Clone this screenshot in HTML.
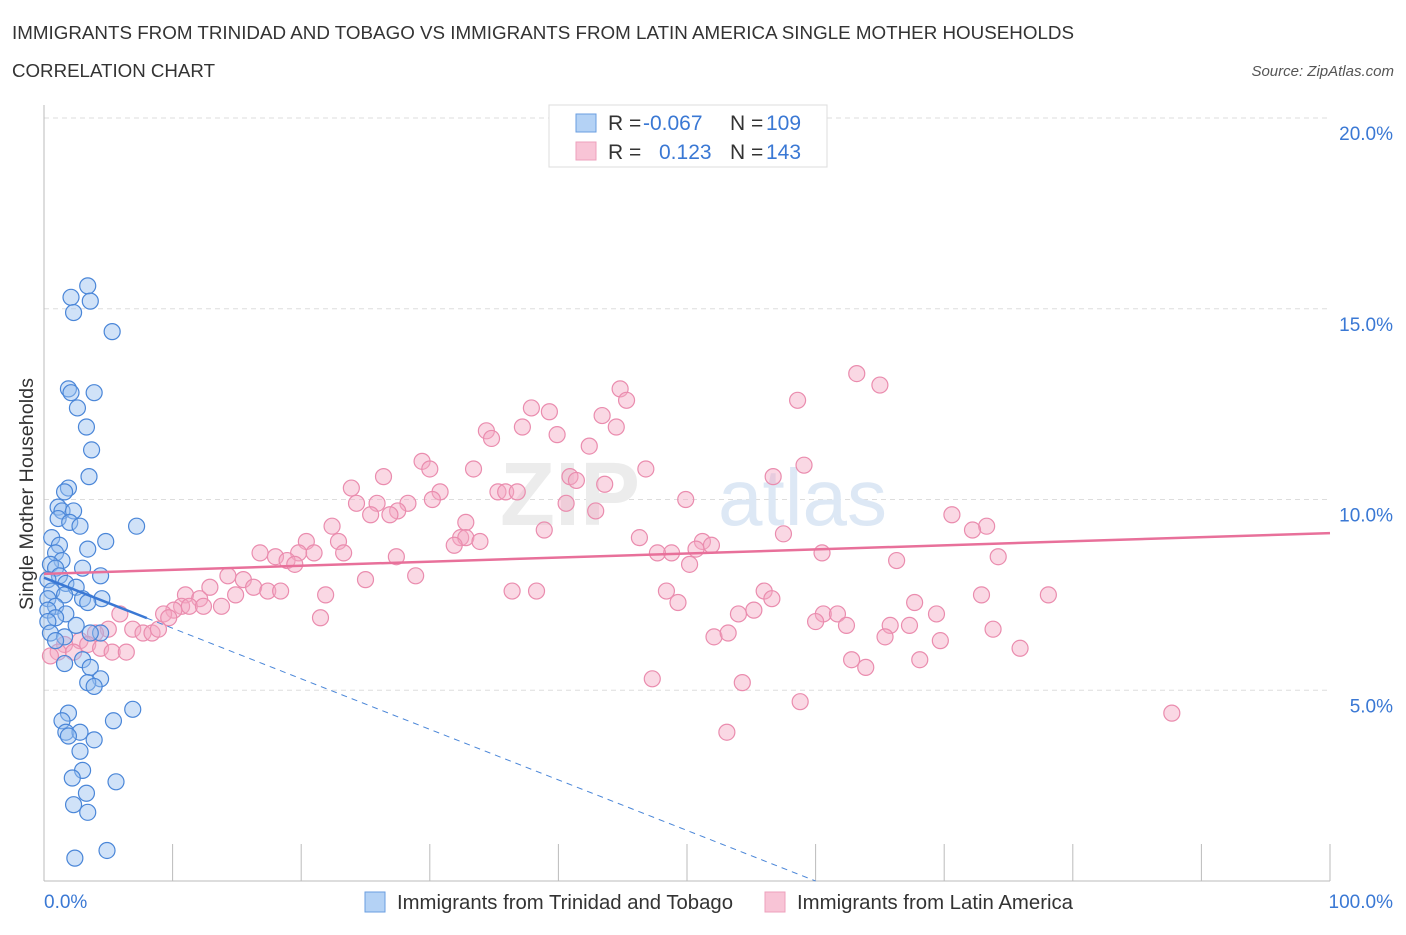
<!DOCTYPE html>
<html><head><meta charset="utf-8"><style>
body{margin:0;background:#fff;font-family:"Liberation Sans",sans-serif;}
svg text{font-family:"Liberation Sans",sans-serif;}
</style></head><body>
<svg id="chart" width="1406" height="930">
<text x="12" y="39" font-size="18" fill="#333" textLength="1062" lengthAdjust="spacingAndGlyphs">IMMIGRANTS FROM TRINIDAD AND TOBAGO VS IMMIGRANTS FROM LATIN AMERICA SINGLE MOTHER HOUSEHOLDS</text>
<text x="12" y="77" font-size="18" fill="#333" textLength="203" lengthAdjust="spacingAndGlyphs">CORRELATION CHART</text>
<text x="1394" y="76" font-size="15" fill="#555" font-style="italic" text-anchor="end">Source: ZipAtlas.com</text>
<text x="33" y="494" font-size="19" fill="#333" text-anchor="middle" textLength="232" lengthAdjust="spacingAndGlyphs" transform="rotate(-90 33 494)">Single Mother Households</text>
<g id="grid"></g>
<text x="640" y="525" font-size="90" fill="#ececec" font-family="Liberation Serif" text-anchor="end" font-weight="bold">ZIP</text>
<text x="718" y="525" font-size="80" fill="#dde8f5">atlas</text>
<g id="pts"></g>
<g id="lines"></g>
<g>
<rect x="549" y="105" width="278" height="62" fill="#fff" stroke="#ddd"/>
<rect x="576" y="114" width="20" height="18" fill="#b4d2f5" stroke="#6a9ee0"/>
<rect x="576" y="142" width="20" height="18" fill="#f8c4d6" stroke="#eea0bc"/>
<text x="608" y="130" font-size="21" fill="#333">R =</text>
<text x="643" y="130" font-size="21" fill="#3a78d4">-0.067</text>
<text x="730" y="130" font-size="21" fill="#333">N =</text>
<text x="766" y="130" font-size="21" fill="#3a78d4">109</text>
<text x="608" y="159" font-size="21" fill="#333">R =</text>
<text x="659" y="159" font-size="21" fill="#3a78d4">0.123</text>
<text x="730" y="159" font-size="21" fill="#333">N =</text>
<text x="766" y="159" font-size="21" fill="#3a78d4">143</text>
</g>
<g>
<rect x="365" y="892" width="20" height="20" fill="#b4d2f5" stroke="#6a9ee0"/>
<text x="397" y="909" font-size="20" fill="#333" textLength="336" lengthAdjust="spacingAndGlyphs">Immigrants from Trinidad and Tobago</text>
<rect x="765" y="892" width="20" height="20" fill="#f8c4d6" stroke="#eea0bc"/>
<text x="797" y="909" font-size="20" fill="#333" textLength="276" lengthAdjust="spacingAndGlyphs">Immigrants from Latin America</text>
</g>
</svg>
<script>
const blueX=[3.4,2.1,3.6,2.3,5.3,1.9,2.1,3.9,2.6,3.3,3.7,3.5,1.9,1.6,1.1,1.4,2.3,1.1,2.0,2.8,7.2,0.6,4.8,1.2,3.4,0.9,1.4,0.5,0.9,3.0,1.2,4.4,0.3,1.7,2.5,0.6,1.6,3.0,4.5,0.3,3.4,0.9,0.3,1.7,0.9,0.3,2.5,0.5,4.4,3.6,1.6,0.9,3.0,1.6,3.6,4.4,3.4,3.9,6.9,1.9,1.4,5.4,1.7,2.8,1.9,3.9,2.8,3.0,2.2,5.6,3.3,2.3,3.4,4.9,2.4];
const blueY=[15.6,15.3,15.2,14.9,14.4,12.9,12.8,12.8,12.4,11.9,11.3,10.6,10.3,10.2,9.8,9.7,9.7,9.5,9.4,9.3,9.3,9.0,8.9,8.8,8.7,8.6,8.4,8.3,8.2,8.2,8.0,8.0,7.9,7.8,7.7,7.6,7.5,7.4,7.4,7.4,7.3,7.2,7.1,7.0,6.9,6.8,6.7,6.5,6.5,6.5,6.4,6.3,5.8,5.7,5.6,5.3,5.2,5.1,4.5,4.4,4.2,4.2,3.9,3.9,3.8,3.7,3.4,2.9,2.7,2.6,2.3,2.0,1.8,0.8,0.6];
const pinkX=[63.2,65.0,44.8,45.3,58.6,37.9,39.3,43.4,44.5,34.4,37.2,34.8,39.9,42.4,29.4,30.0,33.4,46.8,59.1,26.4,56.7,40.9,41.4,43.6,23.9,30.8,35.3,35.9,36.8,49.9,30.2,24.3,28.3,25.9,27.5,25.4,26.9,42.9,40.6,70.6,32.8,22.4,38.9,73.3,72.2,32.4,32.8,46.3,57.5,33.9,20.4,22.9,51.2,51.9,31.9,19.8,16.8,21.0,23.3,27.4,48.8,47.7,50.7,60.5,74.2,18.0,18.9,19.5,50.2,66.3,14.3,25.0,28.9,15.5,12.9,16.3,17.4,18.4,36.4,38.3,48.4,56.0,78.1,72.9,14.9,21.9,11.0,12.1,56.6,49.3,67.7,10.7,11.3,10.1,12.4,13.8,55.2,60.6,61.7,69.4,54.0,9.3,9.7,21.5,60.0,62.4,5.9,65.8,67.3,73.8,6.9,7.7,8.4,8.9,5.0,4.0,52.1,53.2,65.4,69.7,2.8,1.6,3.4,4.4,75.9,1.1,2.3,5.3,6.4,0.5,68.1,62.8,63.9,47.3,54.3,58.8,87.7,53.1];
const pinkY=[13.3,13.0,12.9,12.6,12.6,12.4,12.3,12.2,11.9,11.8,11.9,11.6,11.7,11.4,11.0,10.8,10.8,10.8,10.9,10.6,10.6,10.6,10.5,10.4,10.3,10.2,10.2,10.2,10.2,10.0,10.0,9.9,9.9,9.9,9.7,9.6,9.6,9.7,9.9,9.6,9.4,9.3,9.2,9.3,9.2,9.0,9.0,9.0,9.1,8.9,8.9,8.9,8.9,8.8,8.8,8.6,8.6,8.6,8.6,8.5,8.6,8.6,8.7,8.6,8.5,8.5,8.4,8.3,8.3,8.4,8.0,7.9,8.0,7.9,7.7,7.7,7.6,7.6,7.6,7.6,7.6,7.6,7.5,7.5,7.5,7.5,7.5,7.4,7.4,7.3,7.3,7.2,7.2,7.1,7.2,7.2,7.1,7.0,7.0,7.0,7.0,7.0,6.9,6.9,6.8,6.7,7.0,6.7,6.7,6.6,6.6,6.5,6.5,6.6,6.6,6.5,6.4,6.5,6.4,6.3,6.3,6.2,6.2,6.1,6.1,6.0,6.0,6.0,6.0,5.9,5.8,5.8,5.6,5.3,5.2,4.7,4.4,3.9];
const blueTrend=[7.95,-0.1325];
const pinkTrend=[8.05,0.0107];
const yTicks=[5,10,15,20];
const xTickLabels=["0.0%","100.0%"];
const X=v=>44+v*12.86, Y=v=>881-v*38.15;
const NS="http://www.w3.org/2000/svg";
function mk(t,a,p){const e=document.createElementNS(NS,t);for(const k in a)e.setAttribute(k,a[k]);p.appendChild(e);return e;}
const grid=document.getElementById('grid');
yTicks.forEach(v=>{
 const l=mk('line',{x1:44,x2:1330,y1:Y(v),y2:Y(v),stroke:'#ddd','stroke-dasharray':'5,4'},grid);
 
 
 const t=mk('text',{x:1393,y:Y(v)+22,'font-size':19,fill:'#3a78d4','text-anchor':'end'},grid);
 t.textContent=v.toFixed(1)+'%';
 
 
});
const ax=mk('line',{x1:44,x2:1330,y1:881,y2:881,stroke:'#bbb'},grid);


const yl=mk('line',{x1:44,x2:44,y1:105,y2:881,stroke:'#bbb'},grid);


for(let i=0;i<=10;i++){const tk=mk('line',{x1:X(i*10),x2:X(i*10),y1:844,y2:881,stroke:'#bbb'},grid);
 
 }
[[0,44,'start'],[100,1393,'end']].forEach((d,i)=>{const t=mk('text',{x:d[1],y:908,'font-size':19,fill:'#3a78d4','text-anchor':d[2]},grid);t.textContent=xTickLabels[i];
 
 });
const pts=document.getElementById('pts');
pinkX.forEach((x,i)=>{const c=mk('circle',{cx:X(x),cy:Y(pinkY[i]),r:8,fill:'rgba(244,168,196,0.45)',stroke:'#ea8cae','stroke-width':1.2},pts);
 
 });
blueX.forEach((x,i)=>{const c=mk('circle',{cx:X(x),cy:Y(blueY[i]),r:8,fill:'rgba(150,190,240,0.45)',stroke:'#4a86d8','stroke-width':1.2},pts);
 
 });
const lines=document.getElementById('lines');
const bEnd=-blueTrend[0]/blueTrend[1];
const bd=mk('line',{x1:X(8),y1:Y(blueTrend[0]+blueTrend[1]*8),x2:X(bEnd),y2:Y(0),stroke:'#4a86d8','stroke-width':1,'stroke-dasharray':'6,5'},lines);


const bs=mk('line',{x1:X(0),y1:Y(blueTrend[0]),x2:X(8),y2:Y(blueTrend[0]+blueTrend[1]*8),stroke:'#3a78d4','stroke-width':2.5},lines);


const ps=mk('line',{x1:X(0),y1:Y(pinkTrend[0]),x2:X(100),y2:Y(pinkTrend[0]+pinkTrend[1]*100),stroke:'#e8709a','stroke-width':2.5},lines);


</script>
</body></html>
